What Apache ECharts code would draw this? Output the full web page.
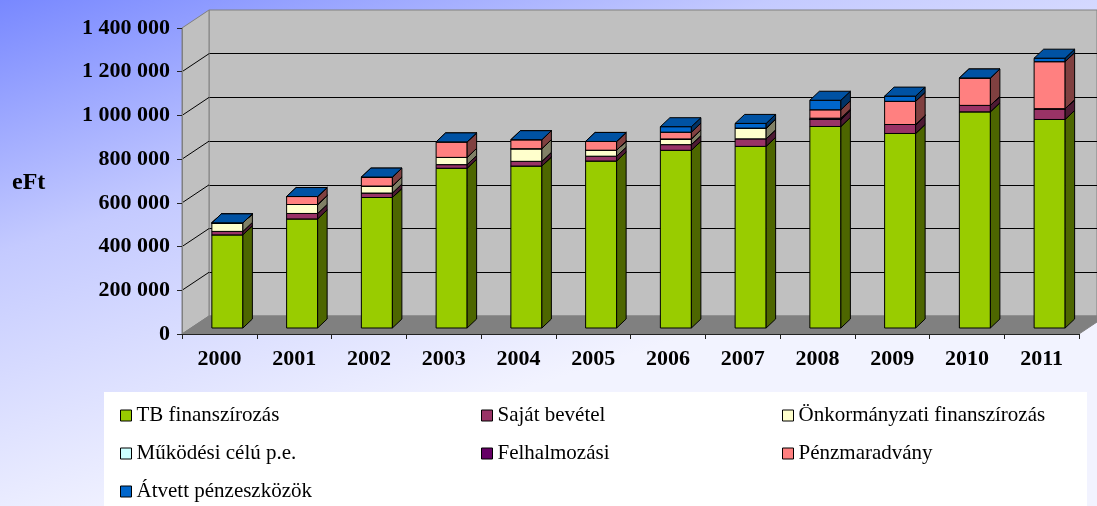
<!DOCTYPE html>
<html lang="hu">
<head>
    <meta charset="UTF-8">
    <title>Bevételek</title>
    <script src="https://cdn.jsdelivr.net/npm/echarts@6/dist/echarts.min.js"></script>
    <style>
        *{
            margin: 0;
            padding: 0;
        }
        .container{
            width: 1097px;
            height: 506px;
        }
    </style>
</head>
<body>
<div class="container"></div>
<script>
    // adatok (eFt)
    let years = ['2000', '2001', '2002', '2003', '2004', '2005', '2006', '2007', '2008', '2009', '2010', '2011'];
    let yTicks = [0, 200000, 400000, 600000, 800000, 1000000, 1200000, 1400000];

    let tbFinanszirozas = [426000, 499000, 597000, 731000, 741000, 764000, 813000, 831000, 922000, 890000, 989000, 954000];
    let sajatBevetel = [16000, 25000, 20500, 16500, 21500, 22000, 26000, 34500, 33000, 41000, 29500, 49500];
    let onkormanyzati = [39000, 41000, 32000, 33000, 58000, 27500, 26000, 49000, 0, 0, 0, 0];
    let mukodesi = [0, 0, 0, 0, 0, 0, 0, 0, 0, 0, 0, 0];
    let felhalmozasi = [0, 0, 0, 0, 0, 0, 0, 0, 5000, 0, 0, 0];
    let penzmaradvany = [0, 36500, 41000, 71000, 41000, 40000, 31000, 0, 38500, 106000, 125500, 215000];
    let atvett = [0, 0, 0, 0, 0, 0, 25000, 21500, 43500, 24000, 0, 16000];

    let names = ['TB finanszírozás', 'Saját bevétel', 'Önkormányzati finanszírozás', 'Működési célú p.e.', 'Felhalmozási', 'Pénzmaradvány', 'Átvett pénzeszközök'];
    let values = [tbFinanszirozas, sajatBevetel, onkormanyzati, mukodesi, felhalmozasi, penzmaradvany, atvett];
    let colors = ['#99cc00', '#993366', '#ffffcc', '#ccffff', '#660066', '#ff8080', '#0066cc'];

    // 3D hatás
    let DX = 27, DY = -18;      // fal mélysége
    let BX = 8, BY = -6;        // oszlop eltolása a mélységben
    let SX = 9.5, SY = -9;      // oszlop mélysége

    function shade(hex, f) {
        let n = parseInt(hex.slice(1), 16);
        let r = Math.round((n >> 16) * f), g = Math.round(((n >> 8) & 255) * f), b = Math.round((n & 255) * f);
        return 'rgb(' + r + ',' + g + ',' + b + ')';
    }

    function fmt(v) {
        return String(v).replace(/\B(?=(\d{3})+(?!\d))/g, ' ');
    }

    let font = 'Liberation Serif, Times New Roman, serif';

    let main = document.querySelectorAll(".container");
    let mycharts = echarts.init(main[0]);

    let series = [];

    // keret: oldalfal, padló
    series.push({
        name: 'frame',
        type: 'custom',
        xAxisIndex: 0,
        yAxisIndex: 0,
        z: 1,
        silent: true,
        encode: {x: 0, y: 1},
        data: yTicks.map(v => [0, v]),
        renderItem: function (params, api) {
            if (params.dataIndex !== 0) return null;
            let cs = params.coordSys;
            let yTop = api.coord([0, yTicks[yTicks.length - 1]])[1];
            let yBot = api.coord([0, 0])[1];
            let x0 = cs.x, x1 = cs.x + cs.width;
            let children = [];
            children.push({
                type: 'polygon',
                shape: {points: [[x0, yTop], [x0 + DX, yTop + DY], [x0 + DX, yBot + DY], [x0, yBot]]},
                style: {fill: '#c0c0c0', stroke: '#808080', lineWidth: 1}
            });
            yTicks.forEach(v => {
                let y = api.coord([0, v])[1];
                if (v === 0 || v === yTicks[yTicks.length - 1]) return;
                children.push({
                    type: 'line',
                    shape: {x1: x0, y1: y, x2: x0 + DX, y2: y + DY},
                    style: {stroke: '#000', lineWidth: 1}
                });
            });
            children.push({
                type: 'polygon',
                shape: {points: [[x0, yBot], [x0 + DX, yBot + DY], [x1 + DX, yBot + DY], [x1, yBot]]},
                style: {fill: '#808080', stroke: '#808080', lineWidth: 1}
            });
            return {type: 'group', children: children};
        }
    });

    names.forEach((name, k) => {
        let data = years.map((y, i) => {
            let lo = 0;
            for (let j = 0; j < k; j++) lo += values[j][i];
            return [i, lo, lo + values[k][i]];
        });
        let c = colors[k];
        series.push({
            name: name,
            type: 'custom',
            xAxisIndex: 0,
            yAxisIndex: 0,
            z: 10 + k,
            itemStyle: {color: c, borderColor: '#000', borderWidth: 1},
            encode: {x: 0, y: [1, 2]},
            data: data,
            renderItem: function (params, api) {
                let cat = api.value(0);
                let pb = api.coord([cat, api.value(1)]);
                let pt = api.coord([cat, api.value(2)]);
                let band = api.size([1, 0])[0];
                let w = band * 0.415;
                let x0 = pb[0] - w / 2 + BX, x1 = x0 + w;
                let yb = pb[1] + BY, yt = pt[1] + BY;
                return {
                    type: 'group',
                    children: [{
                        type: 'rect',
                        shape: {x: x0, y: yt, width: w, height: yb - yt},
                        style: {fill: c, stroke: '#000', lineWidth: 1}
                    }, {
                        type: 'polygon',
                        shape: {points: [[x1, yb], [x1 + SX, yb + SY], [x1 + SX, yt + SY], [x1, yt]]},
                        style: {fill: shade(c, 0.5), stroke: '#000', lineWidth: 1}
                    }, {
                        type: 'polygon',
                        shape: {points: [[x0, yt], [x0 + SX, yt + SY], [x1 + SX, yt + SY], [x1, yt]]},
                        style: {fill: shade(c, 0.8), stroke: '#000', lineWidth: 1}
                    }]
                };
            }
        });
    });

    let legendBase = {
        orient: 'vertical',
        top: 405,
        height: 110,
        padding: 0,
        itemWidth: 11,
        itemHeight: 11,
        itemGap: 17,
        icon: 'rect',
        selectedMode: false,
        itemStyle: {borderColor: '#000', borderWidth: 1},
        textStyle: {fontFamily: font, fontSize: 21, color: '#000'}
    };

    let Option = {
        backgroundColor: {
            type: 'linear', x: 0, y: 0, x2: 0.15, y2: 1,
            colorStops: [
                {offset: 0, color: '#7888ff'},
                {offset: 0.45, color: '#c4caff'},
                {offset: 1, color: '#f2f3ff'}
            ]
        },
        animation: false,
        title: {
            text: 'eFt',
            left: 12,
            top: 171,
            padding: 0,
            textStyle: {fontFamily: font, fontWeight: 'bold', fontSize: 24, color: '#000'}
        },
        graphic: [{
            type: 'rect',
            left: 104,
            top: 392,
            shape: {width: 983, height: 130},
            style: {fill: '#ffffff'},
            z: -10
        }],
        grid: [
            {left: 182, top: 28, width: 897, height: 306},
            {left: 182 + DX, top: 28 + DY, width: 897, height: 306, show: true, backgroundColor: '#c0c0c0', borderColor: '#808080', borderWidth: 1}
        ],
        xAxis: [{
            gridIndex: 0,
            type: 'category',
            data: years,
            z: 5,
            axisLine: {lineStyle: {color: '#222', width: 1}},
            axisTick: {show: true, length: 5, lineStyle: {color: '#222'}},
            axisLabel: {margin: 14, fontFamily: font, fontWeight: 'bold', fontSize: 22, color: '#000'}
        }, {
            gridIndex: 1,
            type: 'category',
            data: years,
            show: false
        }],
        yAxis: [{
            gridIndex: 0,
            type: 'value',
            min: 0,
            max: 1400000,
            interval: 200000,
            z: 5,
            axisLine: {show: true, lineStyle: {color: '#808080'}},
            axisTick: {show: true, length: 5, lineStyle: {color: '#222'}},
            splitLine: {show: false},
            axisLabel: {margin: 12, fontFamily: font, fontWeight: 'bold', fontSize: 22, color: '#000', formatter: fmt}
        }, {
            gridIndex: 1,
            type: 'value',
            min: 0,
            max: 1400000,
            interval: 200000,
            axisLine: {show: false},
            axisTick: {show: false},
            axisLabel: {show: false},
            splitLine: {show: true, showMinLine: false, showMaxLine: false, lineStyle: {color: '#000', width: 1}}
        }],
        legend: [
            Object.assign({}, legendBase, {left: 120, data: [names[0], names[3], names[6]]}),
            Object.assign({}, legendBase, {left: 481, data: [names[1], names[4]]}),
            Object.assign({}, legendBase, {left: 782, data: [names[2], names[5]]})
        ],
        series
    };

    mycharts.setOption(Option);
</script>
</body>
</html>
